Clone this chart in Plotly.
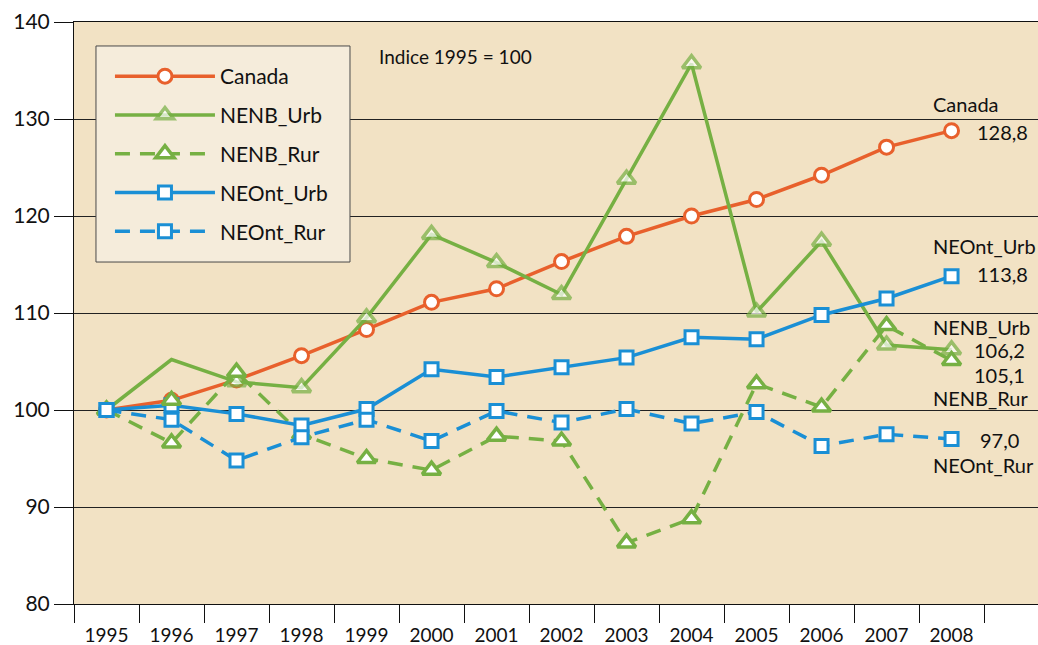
import plotly.graph_objects as go

years = [str(y) for y in range(1995, 2009)]
canada = [100, 101.0, 103.1, 105.6, 108.3, 111.1, 112.5, 115.3, 117.9, 120.0, 121.7, 124.2, 127.1, 128.8]
nenb_urb = [100, 105.2, 102.9, 102.3, 109.5, 118.1, 115.2, 111.9, 123.8, 135.7, 110.1, 117.4, 106.7, 106.2]
nenb_rur = [100, 96.6, 103.9, 97.5, 95.0, 93.8, 97.3, 96.8, 86.3, 88.8, 102.7, 100.3, 108.7, 105.1]
neont_urb = [100, 100.5, 99.6, 98.4, 100.1, 104.2, 103.4, 104.4, 105.4, 107.5, 107.3, 109.8, 111.5, 113.8]
neont_rur = [100, 99.0, 94.8, 97.2, 99.0, 96.8, 99.9, 98.7, 100.1, 98.6, 99.8, 96.3, 97.5, 97.0]
# NENB_Urb 1996 marker drawn off the line in the original
stray_year = [1]
stray_val = [101.0]

end_labels = ["Canada", "128,8", "NEOnt_Urb", "113,8", "NENB_Urb", "106,2", "105,1", "NENB_Rur", "97,0", "NEOnt_Rur"]
end_label_y = [131.5, 128.65, 116.9, 114.0, 108.6, 106.2, 103.6, 101.2, 96.9, 94.3]
end_label_x = [12.68, 13.36, 12.68, 13.36, 12.68, 13.32, 13.32, 12.68, 13.41, 12.68]

ORANGE = "#E8602C"
GREEN = "#76B043"
BLUE = "#1A8FD5"
FONT = "Lato"

xs = list(range(len(years)))
fig = go.Figure()

def add(name, vals, color, symbol, dash, msize, lw, sizes=None):
    fig.add_trace(go.Scatter(
        x=xs, y=vals, name=name, mode="lines+markers", legendgroup=name,
        line=dict(color=color, width=3.5, dash=dash),
        marker=dict(symbol=symbol, size=sizes if sizes else msize, color="white",
                    line=dict(color=color, width=lw)),
    ))

add("Canada", canada, ORANGE, "circle", "solid", 14, 3)
add("NENB_Urb", nenb_urb, GREEN, "triangle-up", "solid", 16, 3.5,
    sizes=[16 if i != 1 else 0 for i in xs])
add("NENB_Rur", nenb_rur, GREEN, "triangle-up", "15px,10px", 16, 3.5)
add("NEOnt_Urb", neont_urb, BLUE, "square", "solid", 13, 3)
add("NEOnt_Rur", neont_rur, BLUE, "square", "15px,10px", 13, 3)

fig.add_trace(go.Scatter(
    x=stray_year, y=stray_val, mode="markers", showlegend=False,
    marker=dict(symbol="triangle-up", size=16, color="white", line=dict(color=GREEN, width=3.5)),
))

for t, xv, yv in zip(end_labels, end_label_x, end_label_y):
    fig.add_annotation(x=xv, y=yv, text=t, showarrow=False, xanchor="left", yanchor="middle",
                       font=dict(family=FONT, size=20, color="#111"))

fig.add_annotation(x=4.16, y=136.4, text="Indice 1995 = 100", showarrow=False,
                   xanchor="left", yanchor="middle", font=dict(family=FONT, size=19, color="#111"))

# legend frame
fig.add_shape(type="rect", xref="paper", yref="paper", x0=0.0228, x1=0.2863, y0=0.5876, y1=0.9588,
              fillcolor="#F5ECDB", line=dict(color="#4A4A4A", width=1), layer="above")

fig.update_layout(
    width=1038, height=645,
    margin=dict(l=74, r=0, t=22, b=41),
    paper_bgcolor="white",
    plot_bgcolor="#F2E2C4",
    font=dict(family=FONT, color="#111"),
    legend=dict(
        x=0.0373, y=0.9416, xanchor="left", yanchor="top",
        bgcolor="rgba(0,0,0,0)", borderwidth=0,
        font=dict(family=FONT, size=21, color="#111"),
        traceorder="grouped", tracegroupgap=8.5, itemwidth=100,
    ),
    xaxis=dict(
        range=[-0.5, 14.33], tickvals=xs, ticktext=years, automargin=False,
        ticks="outside", ticklen=14, tickcolor="rgba(0,0,0,0)",
        tickfont=dict(family=FONT, size=19, color="#111"),
        showgrid=False, zeroline=False,
        showline=True, linecolor="#111", linewidth=1, mirror=True,
        minor=dict(tick0=-0.5, dtick=1, ticks="outside", ticklen=18, tickcolor="#111", tickwidth=1),
    ),
    yaxis=dict(
        range=[80, 140], tickvals=[80, 90, 100, 110, 120, 130, 140], automargin=False,
        ticks="outside", ticklen=19, tickcolor="#111", tickwidth=1,
        tickfont=dict(family=FONT, size=21, color="#111"),
        showgrid=True, gridcolor="#222", gridwidth=1, zeroline=False,
        showline=True, linecolor="#111", linewidth=1,
    ),
)

fig.write_html("out.html", config={"displayModeBar": False},
               post_script="document.body.style.margin='0';document.body.style.overflow='hidden';")
